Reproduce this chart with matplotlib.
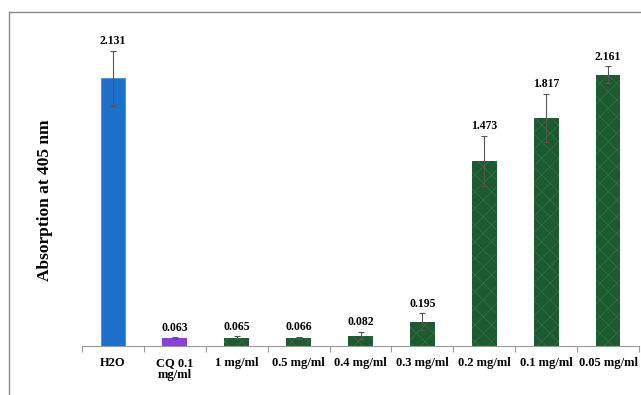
import matplotlib
matplotlib.use("Agg")
import matplotlib.pyplot as plt
from matplotlib.lines import Line2D
import numpy as np

categories = ["H2O", "CQ 0.1\nmg/ml", "1 mg/ml", "0.5 mg/ml", "0.4 mg/ml",
              "0.3 mg/ml", "0.2 mg/ml", "0.1 mg/ml", "0.05 mg/ml"]
values = [2.131, 0.063, 0.065, 0.066, 0.082, 0.195, 1.473, 1.817, 2.161]
errors = [0.22, 0.008, 0.012, 0.008, 0.03, 0.065, 0.20, 0.19, 0.065]
value_labels = ["2.131", "0.063", "0.065", "0.066", "0.082", "0.195",
                "1.473", "1.817", "2.161"]

blue = "#1c6fca"
purple = "#8b3fd6"
green = "#1d5a30"
colors = [blue, purple] + [green] * 7

plt.rcParams["font.family"] = ["Liberation Serif", "DejaVu Serif"]
plt.rcParams["hatch.linewidth"] = 0.5

fig = plt.figure(figsize=(6.41, 3.95), dpi=100)
ax = fig.add_axes([82 / 641, 49 / 395, 557 / 641, 314 / 395])

x = np.arange(len(categories))
bars = ax.bar(x, values, width=0.4, color=colors, edgecolor="none", zorder=2)
# marbled look on the extract bars
for b, c in zip(bars, colors):
    if c == green:
        b.set_hatch("//\\\\")
        b.set_edgecolor("#2e7443")
        b.set_linewidth(0)
# lighter rim on the blue bar
bars[0].set_edgecolor("#4f95dd")
bars[0].set_linewidth(0.8)

ax.errorbar(x, values, yerr=errors, fmt="none", ecolor="#555555",
            elinewidth=0.8, capsize=2, capthick=0.8, zorder=3)

for xi, v, e, lab in zip(x, values, errors, value_labels):
    ax.annotate(lab, (xi, v + e), xytext=(0, 2.5), textcoords="offset points",
                ha="center", va="bottom", fontsize=8.5, fontweight="bold")

ax.set_xlim(-0.5, len(categories) - 0.5)
ax.set_ylim(0, 2.5)

for s in ["top", "right", "left"]:
    ax.spines[s].set_visible(False)
ax.spines["bottom"].set_color("#999999")
ax.spines["bottom"].set_linewidth(0.8)
ax.set_yticks([])

ax.set_xticks(x)
ax.set_xticklabels(categories, fontsize=9, fontweight="bold", linespacing=1.0)
ax.tick_params(axis="x", which="major", length=0, pad=8)
ax.set_xticks(np.arange(-0.5, len(categories) + 0.5, 1), minor=True)
ax.tick_params(axis="x", which="minor", length=4, color="#999999", width=0.8)

fig.text(45 / 641, 1 - 200 / 395, "Absorption at 405 nm", rotation=90,
         ha="center", va="center", fontsize=12.5, fontweight="bold")

# outer frame lines
fig.add_artist(Line2D([9 / 641, 9 / 641], [0, 1 - 12 / 395],
                      transform=fig.transFigure, color="#8a8a8a", lw=1))
fig.add_artist(Line2D([9 / 641, 1], [1 - 12 / 395, 1 - 12 / 395],
                      transform=fig.transFigure, color="#8a8a8a", lw=1))

fig.savefig("out.png", dpi=100)
